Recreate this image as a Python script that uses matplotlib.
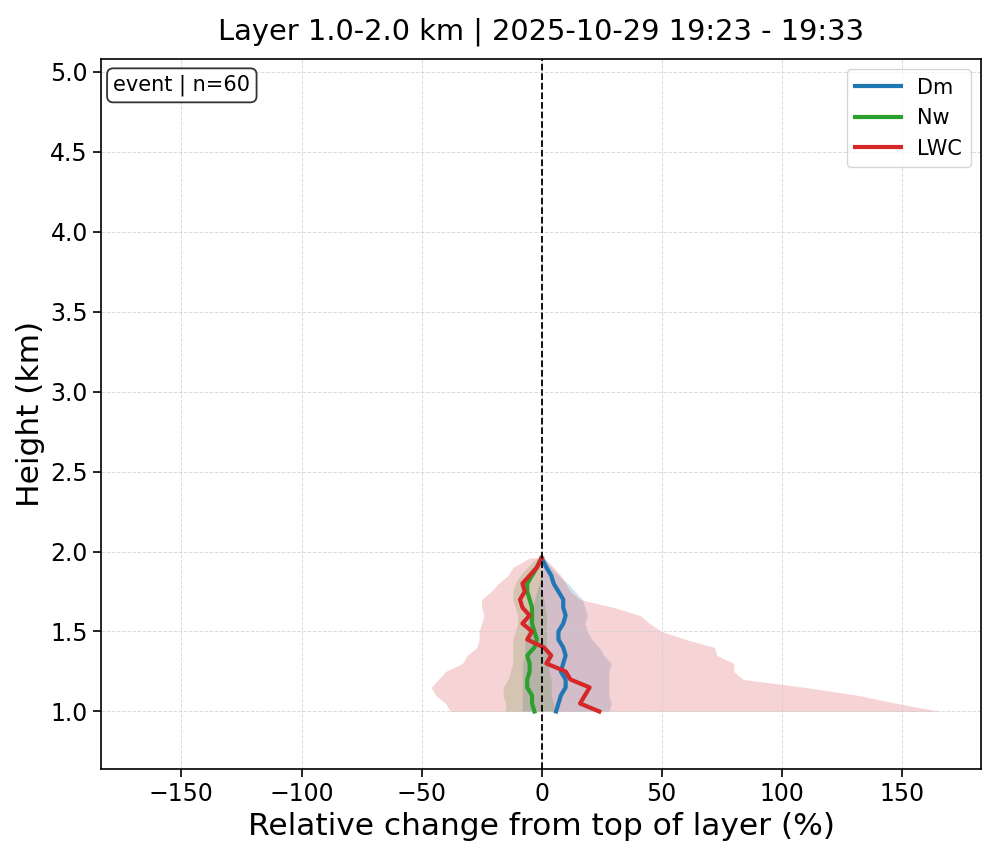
import numpy as np
import matplotlib
matplotlib.use("Agg")
import matplotlib.pyplot as plt

# heights of the profile levels (km)
height = [1.00, 1.05, 1.10, 1.15, 1.20, 1.25, 1.30, 1.35, 1.40, 1.45,
          1.50, 1.55, 1.60, 1.65, 1.70, 1.75, 1.80, 1.85, 1.90, 1.96]

# median relative change (%)
dm_med = [6, 7, 8, 10, 10, 8, 9, 10, 9, 7, 7, 9, 10, 9, 9, 7, 5, 4, 2, 0]
nw_med = [-3, -4, -4, -6, -6, -5, -5, -6, -3, -2, -3, -4, -4, -4, -5, -6, -6, -4, -2, 0]
lwc_med = [24, 16, 18, 20, 12, 10, 2, 4, 1, -6, -4, -8, -5, -8, -9, -7, -8, -5, -2, 0]

# spread (lower / upper)
dm_lo = [-8, -8, -8, -8, -8, -8, -8, -7, -7, -7, -6, -6, -5, -4, -3, -2, -1, 0, 0.5, 0]
dm_hi = [28, 29, 28, 28, 28, 28, 29, 26, 24, 21, 19, 18, 19, 18, 17, 14, 11, 7, 4, 1]
nw_lo = [-15, -15, -16, -16, -14, -13, -12, -12, -12, -12, -11, -10, -10, -11, -12, -12, -11, -9, -6, -2]
nw_hi = [5, 5, 4, 4, 4, 3, 3, 2.5, 2, 2, 2, 2, 2, 1.5, 1, 0, 0, 0, 0, 0]
lwc_lo = [-38, -40, -44, -46, -43, -40, -33, -31, -27, -26, -26, -25, -24, -25, -25, -21, -18, -14, -12, -5]
lwc_hi = [166, 148, 132, 110, 84, 80, 80, 73, 72, 60, 50, 45, 41, 30, 16, 12, 10, 8, 5, 1]

fig = plt.figure(figsize=(9.96, 8.56), dpi=100)
ax = fig.add_axes([0.1014, 0.1016, 0.8836, 0.8295])

series = [("Dm", dm_med, dm_lo, dm_hi, "tab:blue"),
          ("Nw", nw_med, nw_lo, nw_hi, "tab:green"),
          ("LWC", lwc_med, lwc_lo, lwc_hi, "tab:red")]

for name, med, lo, hi, c in series:
    ax.fill_betweenx(height, lo, hi, color=c, alpha=0.2, linewidth=0)
for name, med, lo, hi, c in series:
    ax.plot(med, height, color=c, lw=3, label=name)

ax.axvline(0, color="black", ls="--", lw=1.3)

ax.set_xlim(-183.5, 183)
ax.set_ylim(0.64, 5.08)
ax.set_xticks([-150, -100, -50, 0, 50, 100, 150])
ax.set_yticks([1.0, 1.5, 2.0, 2.5, 3.0, 3.5, 4.0, 4.5, 5.0])
ax.tick_params(labelsize=17, length=6, width=1.2)
for s in ax.spines.values():
    s.set_linewidth(1.2)
ax.grid(True, ls="--", lw=0.7, color="#cccccc", alpha=0.7)

ax.set_xlabel("Relative change from top of layer (%)", fontsize=22.5)
ax.set_ylabel("Height (km)", fontsize=22.5)
ax.set_title("Layer 1.0-2.0 km | 2025-10-29 19:23 - 19:33", fontsize=20.8, pad=14)

ax.text(0.014, 0.978, "event | n=60", transform=ax.transAxes, fontsize=15,
        va="top", ha="left",
        bbox=dict(boxstyle="round,pad=0.3", facecolor="white", edgecolor="#333333", lw=1.3))
ax.legend(loc="upper right", fontsize=15, handlelength=2.2)

fig.savefig("out.png", dpi=100)
